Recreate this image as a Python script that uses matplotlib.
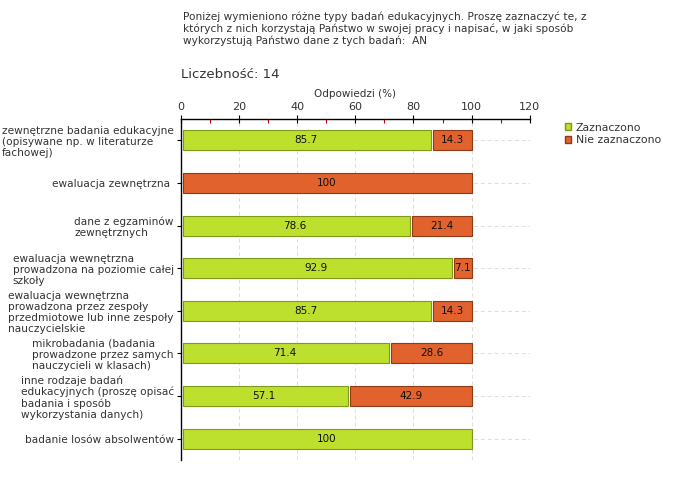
import matplotlib
matplotlib.use("Agg")
import matplotlib.pyplot as plt
from matplotlib.ticker import MultipleLocator
from matplotlib.patches import Patch

categories = [
    "zewnętrzne badania edukacyjne\n(opisywane np. w literaturze\nfachowej)",
    "ewaluacja zewnętrzna ",
    "dane z egzaminów\nzewnętrznych",
    "ewaluacja wewnętrzna\nprowadzona na poziomie całej\nszkoły",
    "ewaluacja wewnętrzna\nprowadzona przez zespoły\nprzedmiotowe lub inne zespoły\nnauczycielskie",
    "mikrobadania (badania\nprowadzone przez samych\nnauczycieli w klasach)",
    "inne rodzaje badań\nedukacyjnych (proszę opisać\nbadania i sposób\nwykorzystania danych)",
    "badanie losów absolwentów",
]
zaznaczono = [85.7, 0, 78.6, 92.9, 85.7, 71.4, 57.1, 100]
nie_zaznaczono = [14.3, 100, 21.4, 7.1, 14.3, 28.6, 42.9, 0]
series_names = ["Zaznaczono", "Nie zaznaczono"]
x_ticks = [0, 20, 40, 60, 80, 100, 120]

green = "#BDDF2E"
green_edge = "#7F9A1A"
orange = "#E2622E"
orange_edge = "#8E3A14"
txt = "#333333"

fig = plt.figure(figsize=(6.8, 4.8), dpi=100)
ax = fig.add_axes([0.266, 0.042, 0.513, 0.710])

n = len(categories)
ys = list(range(n))
h = 0.47
for i in range(n):
    a = zaznaczono[i]
    b = nie_zaznaczono[i]
    if a > 0:
        ax.barh(i, a - 0.3, left=0.6, height=h, color=green, edgecolor=green_edge, linewidth=0.8, zorder=3)
        ax.text(a / 2, i, f"{a:g}", ha="center", va="center", fontsize=7.5, color="#111111", zorder=4)
    if b > 0:
        start = a + 1.0 if a > 0 else 0.6
        ax.barh(i, 100 - start, left=start, height=h, color=orange, edgecolor=orange_edge, linewidth=0.8, zorder=3)
        ax.text((start + 100) / 2, i, f"{b:g}", ha="center", va="center", fontsize=7.5, color="#111111", zorder=4)

ax.set_xlim(0, 120)
ax.set_ylim(n - 0.5, -0.5)
ax.xaxis.tick_top()
ax.xaxis.set_label_position("top")
ax.set_xticks(x_ticks)
ax.set_xticklabels([str(t) for t in x_ticks], fontsize=8, color=txt)
ax.xaxis.set_minor_locator(MultipleLocator(10))
ax.tick_params(axis="x", which="major", direction="inout", length=6, width=0.8, pad=2)
ax.tick_params(axis="x", which="minor", direction="in", length=3, color="#CC0000", width=0.8)
ax.set_xlabel("Odpowiedzi (%)", fontsize=7.5, color=txt, labelpad=4)

ax.set_yticks(ys)
ax.set_yticklabels(categories, fontsize=7.6, color=txt, multialignment="left", linespacing=1.12)
ax.tick_params(axis="y", direction="out", length=3, width=0.8, pad=2)

for s in ["right", "bottom"]:
    ax.spines[s].set_visible(False)
ax.spines["top"].set_linewidth(1.0)
ax.spines["left"].set_linewidth(1.0)

ax.grid(True, axis="x", which="major", linestyle=(0, (4, 3)), color="#DDDDDD", linewidth=0.7, zorder=0)
for y in ys:
    ax.axhline(y, color="#DDDDDD", linestyle=(0, (4, 3)), linewidth=0.7, zorder=0)

fig.text(183 / 680, 1 - 11 / 480,
         "Poniżej wymieniono różne typy badań edukacyjnych. Proszę zaznaczyć te, z\n"
         "których z nich korzystają Państwo w swojej pracy i napisać, w jaki sposób\n"
         "wykorzystują Państwo dane z tych badań:  AN",
         fontsize=7.6, color=txt, va="top", ha="left", linespacing=1.22)
fig.text(181 / 680, 1 - 75 / 480, "Liczebność: 14", fontsize=9.5, color=txt, va="center", ha="left")

handles = [Patch(facecolor=green, edgecolor=green_edge), Patch(facecolor=orange, edgecolor=orange_edge)]
fig.legend(handles, series_names, loc="upper left", bbox_to_anchor=(555 / 680, 1 - 113 / 480),
           frameon=False, fontsize=7.8, handlelength=0.6, handleheight=0.6, handletextpad=0.4,
           labelspacing=0.25, labelcolor=txt)

fig.savefig("out.png", dpi=100)
